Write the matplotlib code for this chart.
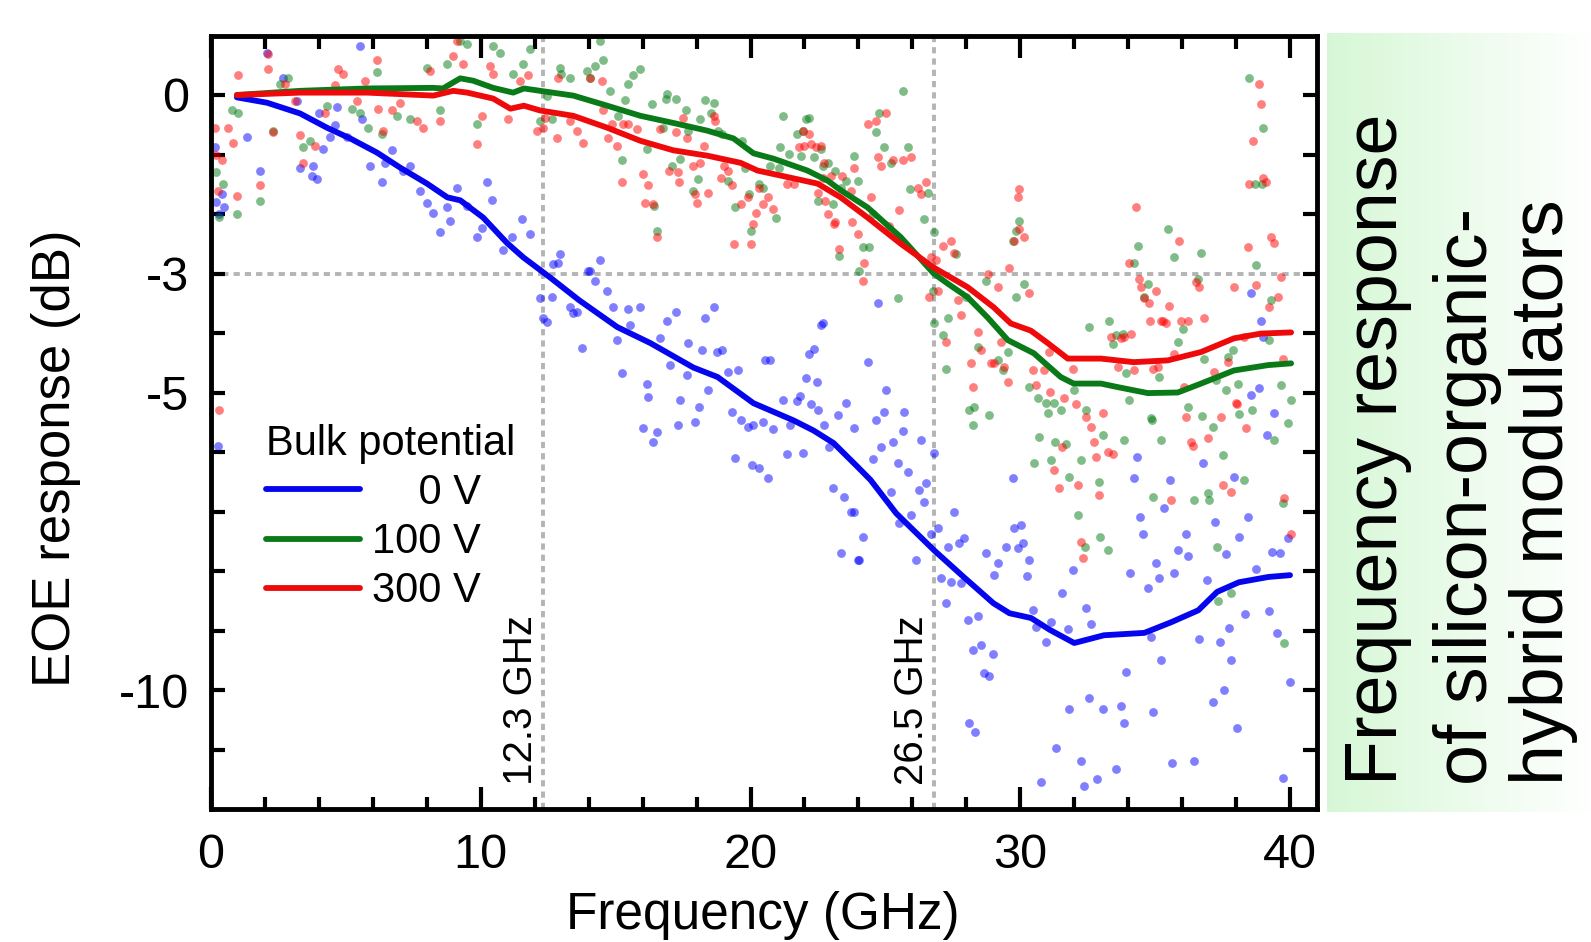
import numpy as np
import matplotlib.pyplot as plt
from matplotlib.ticker import MultipleLocator

plt.rcParams['font.family'] = ['Liberation Sans', 'DejaVu Sans']
plt.rcParams['axes.unicode_minus'] = False

# smoothed EOE response curves (frequency in GHz, response in dB)
blue_fx = [0.96, 2.08, 3.3, 4.3, 5.16, 6.16, 7.01, 8.01, 8.76, 9.24, 10.09, 10.98, 11.58, 12.58,
           13.65, 15.06, 16.29, 17.88, 18.78, 20.11, 21.6, 22.34, 23.08, 23.97, 24.45, 25.4, 26.8,
           27.9, 29.0, 29.6, 30.4, 31.1, 32.0, 33.1, 34.6, 35.6, 36.6, 37.3, 38.1, 39.2, 40.0]
blue_fy = [-0.04, -0.13, -0.31, -0.55, -0.73, -0.97, -1.22, -1.49, -1.72, -1.77, -2.06, -2.49, -2.73, -3.07,
           -3.45, -3.90, -4.17, -4.58, -4.74, -5.18, -5.47, -5.64, -5.85, -6.25, -6.47, -7.03, -7.65,
           -8.10, -8.54, -8.71, -8.79, -8.99, -9.21, -9.08, -9.04, -8.86, -8.66, -8.35, -8.19, -8.10, -8.07]

green_fx = [0.96, 3.3, 5.79, 8.24, 8.6, 9.24, 9.72, 10.46, 11.2, 11.6, 12.2, 13.43, 14.69, 15.92, 17.14,
            18.4, 19.37, 20.11, 20.85, 22.11, 22.86, 23.34, 24.34, 25.57, 26.79, 27.31, 28.05, 28.79,
            29.54, 30.5, 31.5, 31.98, 32.99, 33.62, 34.73, 35.84, 36.7, 37.92, 39.18, 40.04]
green_fy = [0.0, 0.07, 0.11, 0.12, 0.11, 0.28, 0.24, 0.12, 0.04, 0.11, 0.07, -0.01, -0.18, -0.35, -0.47,
            -0.60, -0.73, -0.98, -1.07, -1.27, -1.44, -1.60, -1.89, -2.39, -3.0, -3.17, -3.40, -3.74,
            -4.12, -4.34, -4.74, -4.85, -4.85, -4.91, -5.01, -5.0, -4.85, -4.63, -4.54, -4.51]

red_fx = [0.96, 3.3, 5.79, 8.24, 8.98, 9.5, 10.46, 11.1, 11.6, 12.2, 13.43, 14.69, 15.92, 17.14, 18.4,
          19.63, 20.26, 21.48, 22.49, 23.34, 24.34, 25.57, 26.79, 28.05, 29.02, 29.65, 30.39, 31.02,
          31.76, 32.99, 34.2, 35.47, 36.7, 37.92, 38.92, 40.04]
red_fy = [0.0, 0.04, 0.04, -0.01, 0.07, 0.04, -0.06, -0.23, -0.18, -0.26, -0.35, -0.55, -0.77, -0.93, -1.02,
          -1.14, -1.27, -1.39, -1.49, -1.72, -2.06, -2.5, -2.9, -3.23, -3.57, -3.84, -3.96, -4.17,
          -4.43, -4.43, -4.49, -4.46, -4.32, -4.09, -4.01, -3.99]

# raw measured points (GHz, dB)
blue_pts = [(0.2, -1.8), (0.3, -2.0), (0.25, -5.9), (0.15, -0.88), (0.4, -1.66), (0.5, -1.89), (1.33, -0.71),
            (1.82, -1.27), (2.08, 0.71), (2.67, 0.29), (3.19, -0.1), (3.3, -1.22), (3.78, -1.19), (3.75, -1.36),
            (3.93, -1.41), (4.0, -0.3), (4.16, -0.9), (4.42, -0.71), (4.6, -0.5), (4.68, -0.21), (5.05, -0.71),
            (5.53, 0.83), (5.6, -0.4), (5.9, -1.19), (6.35, -1.47), (6.46, -1.15), (6.72, -0.93), (7.12, -1.27),
            (7.38, -1.19), (7.76, -1.61), (8.01, -1.81), (8.24, -1.98), (8.5, -2.31), (8.76, -1.89), (8.87, -2.11),
            (9.13, -1.56), (9.5, -1.86), (9.87, -2.39), (10.06, -2.23), (10.24, -1.47), (10.43, -1.77),
            (10.83, -2.61), (11.17, -2.39), (11.54, -2.08), (11.84, -2.33), (12.21, -3.41), (12.32, -3.74),
            (12.47, -3.82), (12.65, -3.4), (12.69, -2.84), (12.88, -2.83), (12.95, -2.67), (13.32, -3.57),
            (13.43, -3.67), (13.58, -3.65), (13.77, -4.26), (13.99, -2.95), (14.06, -2.95), (14.25, -3.12),
            (14.43, -2.78), (14.69, -3.29), (14.92, -3.57), (15.06, -4.12), (15.25, -4.68), (15.47, -3.59),
            (15.55, -3.87), (15.92, -3.57), (16.03, -5.6), (16.18, -4.85), (16.21, -5.08), (16.4, -5.84),
            (16.55, -5.67), (16.66, -4.09), (16.92, -3.79), (17.03, -4.54), (17.22, -3.65), (17.33, -5.54),
            (17.4, -5.13), (17.66, -4.71), (17.7, -4.16), (17.96, -5.5), (18.1, -5.25), (18.22, -4.29),
            (18.33, -3.74), (18.44, -4.95), (18.63, -3.56), (18.74, -4.32), (18.96, -4.29), (19.18, -4.66),
            (19.33, -5.32), (19.44, -6.1), (19.55, -4.63), (19.63, -5.47), (19.89, -5.58), (20.04, -6.22),
            (20.11, -5.54), (20.33, -6.27), (20.45, -5.5), (20.52, -4.46), (20.63, -6.43), (20.74, -4.46),
            (20.85, -5.62), (21.19, -5.13), (21.34, -6.04), (21.48, -5.55), (21.74, -5.15), (21.82, -5.06),
            (21.93, -6.02), (22.04, -4.75), (22.15, -4.35), (22.23, -5.2), (22.34, -4.27), (22.45, -4.83),
            (22.52, -5.29), (22.63, -3.86), (22.67, -3.84), (22.71, -5.55), (22.9, -5.92), (23.04, -6.61),
            (23.23, -5.38), (23.34, -7.7), (23.45, -6.76), (23.53, -5.17), (23.71, -7.0), (23.82, -5.6),
            (23.82, -7.01), (23.97, -7.82), (24.04, -7.82), (24.16, -7.43), (24.34, -4.49), (24.53, -6.11),
            (24.64, -5.47), (24.71, -3.5), (24.82, -5.92), (24.93, -5.33), (25.01, -4.96), (25.19, -6.68),
            (25.3, -5.84), (25.45, -6.19), (25.49, -7.2), (25.64, -5.64), (25.68, -5.33), (25.83, -6.34),
            (25.94, -7.06), (26.12, -7.82), (26.23, -6.64), (26.31, -5.8), (26.42, -6.84), (26.49, -6.52),
            (26.68, -7.37), (26.79, -6.02), (26.94, -7.28), (27.05, -8.12), (27.24, -8.53), (27.31, -7.6),
            (27.42, -8.19), (27.53, -7.01), (27.72, -7.53), (27.79, -8.2), (27.9, -7.45), (28.05, -8.82),
            (28.09, -10.55), (28.24, -9.33), (28.31, -10.7), (28.42, -8.76), (28.53, -9.25), (28.65, -9.71),
            (28.72, -7.7), (28.83, -9.77), (28.98, -9.4), (29.02, -8.07), (29.16, -7.87), (29.46, -7.6),
            (29.72, -6.44), (29.76, -7.28), (29.91, -7.62), (30.02, -7.23), (30.09, -7.53), (30.24, -8.09),
            (30.32, -7.82), (30.46, -8.66), (30.57, -8.94), (30.76, -11.55), (30.95, -9.19), (31.13, -8.86),
            (31.32, -10.97), (31.54, -8.37), (31.76, -8.98), (31.8, -10.32), (31.95, -7.99), (32.24, -11.2),
            (32.36, -11.61), (32.43, -8.62), (32.54, -10.13), (32.62, -8.89), (32.84, -11.5), (33.06, -10.32),
            (33.54, -11.33), (33.73, -10.27), (33.84, -10.55), (33.91, -9.7), (34.06, -8.04), (34.21, -6.44),
            (34.32, -6.09), (34.43, -7.1), (34.54, -7.37), (34.73, -8.29), (34.84, -9.11), (34.92, -10.37),
            (35.03, -7.87), (35.14, -8.12), (35.21, -9.5), (35.32, -6.94), (35.55, -6.47), (35.62, -11.23),
            (35.7, -8.04), (35.84, -7.65), (36.14, -7.37), (36.22, -7.74), (36.44, -11.2), (36.62, -9.14),
            (36.77, -6.19), (36.92, -8.15), (37.14, -10.2), (37.22, -7.18), (37.4, -9.2), (37.55, -10.0),
            (37.62, -7.72), (37.74, -8.96), (37.83, -9.5), (37.92, -6.42), (38.03, -10.64), (38.11, -7.43),
            (38.33, -8.72), (38.44, -7.1), (38.55, -5.05), (38.55, -3.32), (38.74, -7.97), (38.85, -4.93),
            (38.92, -3.79), (39.0, -4.07), (39.15, -5.72), (39.22, -8.67), (39.33, -7.68), (39.41, -5.35),
            (39.52, -9.04), (39.63, -7.7), (39.74, -11.48), (39.93, -7.45), (40.0, -9.87)]

green_pts = [(0.2, -1.3), (0.3, -2.05), (0.45, -1.49), (0.78, -0.26), (1.0, -0.31), (0.96, -2.0), (1.82, -1.78),
             (2.3, -0.6), (2.56, 0.19), (2.86, 0.29), (3.41, -0.88), (3.67, -0.77), (4.3, -0.18), (5.23, -0.23),
             (5.53, -0.3), (5.83, -0.55), (6.16, 0.38), (6.35, -0.65), (6.9, -0.35), (7.38, -0.4), (8.01, 0.46),
             (8.5, -0.26), (8.76, 0.52), (9.24, 0.91), (9.5, 0.86), (9.87, -0.48), (10.46, 0.83), (10.72, 0.71),
             (11.2, 0.36), (11.58, 0.52), (11.84, 0.78), (12.21, -0.43), (12.47, -0.01), (12.65, -0.4),
             (12.95, 0.46), (12.99, 0.36), (13.32, 0.29), (13.95, 0.41), (14.06, 0.28), (14.25, 0.49),
             (14.43, 0.91), (14.55, 0.58), (14.8, 0.07), (15.1, -0.35), (15.25, -1.1), (15.36, -0.09),
             (15.44, 0.19), (15.66, 0.33), (15.92, 0.44), (16.18, -0.9), (16.36, -0.15), (16.44, -1.87),
             (16.55, -2.28), (16.77, -0.55), (16.85, -0.06), (16.92, 0.02), (17.1, -1.19), (17.22, -0.06),
             (17.4, -1.07), (17.59, -0.26), (17.7, -0.6), (17.88, -1.61), (18.07, -1.41), (18.14, -0.4),
             (18.33, -0.09), (18.52, -0.31), (18.63, -0.13), (18.78, -0.6), (18.96, -0.65), (19.15, -1.44),
             (19.44, -1.89), (19.7, -0.77), (19.81, -1.22), (19.93, -1.66), (20.0, -2.28), (20.3, -1.5),
             (20.45, -1.56), (20.74, -1.19), (20.93, -2.06), (21.04, -1.22), (21.11, -0.88), (21.22, -0.35),
             (21.41, -0.99), (21.74, -0.65), (21.86, -1.02), (21.93, -0.6), (22.04, -0.4), (22.15, -0.38),
             (22.34, -1.05), (22.52, -1.78), (22.6, -0.9), (22.7, -1.2), (22.86, -1.14), (23.04, -1.83),
             (23.15, -1.27), (23.27, -2.7), (23.34, -1.56), (23.53, -1.44), (23.82, -1.02), (23.97, -1.44),
             (24.01, -2.95), (24.16, -2.56), (24.38, -2.56), (24.53, -2.0), (24.64, -0.63), (24.75, -0.3),
             (24.93, -0.88), (25.19, -1.15), (25.45, -3.42), (25.64, 0.07), (25.83, -0.88), (25.9, -1.58),
             (26.42, -2.08), (26.57, -1.64), (26.75, -3.29), (26.79, -2.31), (26.8, -3.84), (27.12, -4.04),
             (27.24, -4.6), (27.31, -3.74), (27.6, -2.67), (27.98, -3.4), (28.09, -5.3), (28.24, -5.55),
             (28.27, -5.25), (28.42, -4.24), (28.72, -3.12), (28.83, -5.38), (29.16, -4.46), (29.35, -4.63),
             (29.54, -4.32), (29.72, -2.45), (29.83, -2.28), (29.85, -3.4), (29.94, -2.11), (30.13, -3.17),
             (30.32, -4.91), (30.5, -6.19), (30.65, -5.1), (30.69, -5.75), (30.95, -5.17), (31.02, -5.35),
             (31.13, -6.14), (31.24, -5.17), (31.28, -5.84), (31.5, -5.3), (31.69, -5.86), (31.8, -6.42),
             (31.98, -4.96), (32.13, -7.06), (32.24, -6.14), (32.4, -7.6), (32.43, -5.3), (32.54, -3.9),
             (32.91, -6.51), (32.95, -7.43), (33.06, -5.72), (33.25, -7.65), (33.28, -3.79), (33.43, -4.18),
             (33.54, -4.04), (33.8, -4.01), (33.84, -5.8), (33.91, -4.68), (34.03, -5.13), (34.21, -2.83),
             (34.36, -2.53), (34.58, -3.4), (34.73, -3.17), (34.84, -5.43), (34.9, -5.47), (34.92, -6.76),
             (35.14, -4.74), (35.21, -5.8), (35.47, -2.25), (35.7, -2.73), (35.84, -4.15), (36.03, -3.93),
             (36.22, -5.25), (36.44, -6.81), (36.6, -3.1), (36.7, -2.65), (36.75, -5.4), (36.81, -4.43),
             (36.96, -6.69), (37.0, -6.81), (37.14, -5.58), (37.25, -4.79), (37.3, -7.6), (37.33, -8.5),
             (37.51, -6.05), (37.62, -4.96), (37.7, -4.4), (37.81, -8.37), (37.89, -4.29), (38.07, -4.85),
             (38.11, -5.36), (38.29, -6.47), (38.48, 0.29), (38.6, -5.3), (38.7, -1.5), (38.74, -2.86),
             (38.97, -1.5), (39.0, -0.55), (39.22, -4.12), (39.29, -3.45), (39.41, -5.8), (39.67, -4.88),
             (39.75, -6.85), (39.78, -9.21), (39.93, -5.52), (40.04, -5.13)]

red_pts = [(0.15, -0.55), (0.2, -1.0), (0.26, -1.61), (0.3, -5.3), (0.41, -1.1), (0.63, -0.55), (0.82, -0.8),
           (0.96, -1.69), (1.0, 0.33), (1.82, -1.51), (2.11, 0.44), (2.11, 0.69), (2.3, -0.62), (2.75, 0.19),
           (3.12, -0.1), (3.3, -0.68), (3.41, -1.15), (3.86, -0.85), (4.23, -0.3), (4.6, 0.16), (4.71, 0.44),
           (4.9, 0.36), (5.42, -0.1), (5.71, 0.24), (6.16, 0.58), (6.2, -0.23), (6.38, -0.6), (6.72, -0.26),
           (7.01, -0.13), (7.64, -0.43), (7.87, -0.55), (8.13, 0.41), (8.5, -0.43), (8.98, 0.66), (9.13, 0.91),
           (9.35, 0.52), (9.87, -0.82), (10.06, -0.35), (10.35, 0.49), (10.46, 0.36), (11.02, -0.4), (11.47, 0.24),
           (11.76, 0.33), (12.1, -0.6), (12.32, -0.55), (12.39, -0.38), (12.84, -0.73), (12.88, 0.28),
           (13.32, -0.43), (13.58, -0.6), (13.8, -0.8), (14.06, 0.28), (14.51, 0.24), (14.55, -0.26),
           (14.73, -0.73), (14.88, -0.48), (15.06, -0.85), (15.25, -1.47), (15.29, -0.48), (15.47, -0.48),
           (15.81, -0.57), (16.03, -1.32), (16.1, -1.81), (16.21, -1.52), (16.4, -1.83), (16.55, -2.39),
           (16.66, -0.57), (16.96, -1.27), (17.22, -0.63), (17.33, -1.3), (17.35, -1.47), (17.51, -0.38),
           (17.66, -0.73), (17.85, -1.19), (17.96, -1.66), (18.03, -1.81), (18.14, -1.15), (18.26, -0.85),
           (18.44, -1.64), (18.63, -0.35), (18.7, -0.43), (18.89, -1.39), (19.0, -1.19), (19.18, -1.27),
           (19.33, -1.52), (19.37, -2.5), (19.63, -1.83), (19.89, -1.72), (20.0, -2.5), (20.11, -2.17),
           (20.19, -1.98), (20.3, -1.56), (20.48, -1.83), (20.63, -1.72), (20.85, -1.91), (21.37, -1.49),
           (21.6, -1.49), (21.78, -0.88), (21.93, -0.6), (21.97, -0.85), (22.15, -0.65), (22.23, -0.82),
           (22.41, -0.88), (22.49, -1.64), (22.6, -0.85), (22.67, -1.39), (22.71, -1.15), (22.75, -1.78),
           (22.86, -2.0), (22.97, -1.36), (23.08, -2.17), (23.15, -2.14), (23.27, -2.58), (23.41, -1.36),
           (23.71, -1.61), (23.78, -2.14), (23.82, -1.22), (23.97, -2.33), (24.16, -3.12), (24.19, -2.83),
           (24.34, -0.48), (24.45, -1.72), (24.64, -0.43), (24.71, -1.05), (24.82, -1.19), (25.01, -0.31),
           (25.12, -2.2), (25.3, -1.1), (25.49, -1.94), (25.64, -1.1), (25.94, -1.05), (26.2, -1.56),
           (26.31, -1.66), (26.49, -1.47), (26.6, -3.4), (26.68, -2.73), (26.86, -2.78), (26.94, -3.29),
           (27.12, -2.53), (27.24, -4.15), (27.42, -2.45), (27.53, -2.65), (27.68, -3.45), (27.79, -3.7),
           (28.16, -4.51), (28.24, -4.91), (28.42, -3.99), (28.53, -4.29), (28.79, -3.0), (28.91, -4.51),
           (29.02, -4.5), (29.16, -3.23), (29.27, -4.15), (29.39, -4.57), (29.54, -4.83), (29.57, -2.9),
           (29.76, -2.45), (29.91, -1.72), (29.94, -1.58), (29.96, -2.25), (30.13, -2.39), (30.32, -3.32),
           (30.46, -4.63), (30.57, -4.88), (30.87, -4.63), (31.06, -4.32), (31.1, -4.99), (31.24, -6.3),
           (31.43, -6.61), (31.54, -5.92), (31.61, -5.1), (31.95, -4.6), (32.06, -5.19), (32.13, -6.56),
           (32.24, -7.51), (32.32, -7.78), (32.43, -5.42), (32.62, -5.58), (32.73, -5.84), (32.8, -6.09),
           (32.91, -6.73), (33.06, -5.35), (33.25, -6.0), (33.36, -4.07), (33.43, -6.03), (33.62, -4.57),
           (33.73, -4.09), (33.84, -4.07), (34.03, -2.82), (34.1, -4.01), (34.21, -4.63), (34.29, -1.89),
           (34.4, -3.09), (34.47, -3.23), (34.6, -3.42), (34.77, -3.5), (34.8, -3.79), (34.92, -4.6),
           (35.03, -3.29), (35.1, -4.57), (35.21, -3.79), (35.3, -3.8), (35.4, -3.84), (35.51, -3.54),
           (35.58, -6.81), (35.7, -4.35), (35.88, -2.45), (35.95, -3.79), (36.07, -4.91), (36.14, -5.42),
           (36.22, -3.79), (36.33, -5.84), (36.4, -5.9), (36.51, -3.15), (36.62, -3.23), (36.81, -3.74),
           (36.96, -5.77), (37.18, -4.66), (37.44, -5.42), (37.51, -6.56), (37.7, -4.49), (37.81, -6.68),
           (37.92, -3.23), (38.0, -5.17), (38.05, -5.19), (38.29, -4.07), (38.35, -5.6), (38.44, -2.56),
           (38.48, -1.49), (38.63, -0.77), (38.74, -3.2), (38.85, 0.19), (38.92, -0.15), (39.0, -1.39),
           (39.11, -1.47), (39.22, -3.57), (39.29, -2.39), (39.41, -2.48), (39.55, -3.4), (39.67, -3.06),
           (39.74, -4.43), (39.78, -6.77), (40.04, -7.37)]

series_labels = ['    0 V', '100 V', '300 V']
line_colors = ['#0505ee', '#0a7a18', '#ee0a0a']
dot_colors = ['#0000ff', '#007a10', '#ff0000']

cutoff_pos = [12.3, 26.8]
cutoff_text = ['12.3 GHz', '26.5 GHz']

ytick_vals = [0, -1, -2, -3, -4, -5, -6, -7, -8, -9, -10, -11]
ytick_text = ['0', '', '', '-3', '', '-5', '', '', '', '', '-10', '']

fig = plt.figure(figsize=(15.91, 9.42), dpi=100)
W, H = 1591, 942
ax = fig.add_axes([211 / W, 1 - 809 / H, 1106 / W, 773.5 / H])

# raw points
for pts, c in zip([blue_pts, green_pts, red_pts], dot_colors):
    px, py = np.array(pts).T
    ax.scatter(px, py, s=40, color=c, alpha=0.5, linewidths=0, zorder=2)

# smoothed lines
handles = []
for fx, fy, c, lab in zip([blue_fx, green_fx, red_fx], [blue_fy, green_fy, red_fy],
                          line_colors, series_labels):
    h, = ax.plot(fx, fy, color=c, lw=4.2, solid_capstyle='round', solid_joinstyle='round',
                 zorder=4, label=lab)
    handles.append(h)

# -3 dB and cutoff markers
grid_kw = dict(color='#b4b4b4', lw=2.8, dashes=(1.6, 1.3), zorder=1)
ax.axhline(-3, **grid_kw)
for xp, txt in zip(cutoff_pos, cutoff_text):
    ax.axvline(xp, **grid_kw)
    ax.text(xp - 0.12, -11.6, txt, rotation=90, ha='right', va='bottom', fontsize=29)

ax.set_xlim(0, 41)
ax.set_ylim(-12, 1)
ax.set_xticks([0, 10, 20, 30, 40])
ax.xaxis.set_minor_locator(MultipleLocator(2))
ax.set_yticks(ytick_vals)
ax.set_yticklabels(ytick_text)

ax.tick_params(which='both', direction='in', top=True, right=True, width=3)
ax.tick_params(axis='x', which='major', length=16, labelsize=35, pad=17)
ax.tick_params(axis='x', which='minor', length=9)
ax.tick_params(axis='y', which='major', length=10, labelsize=35, pad=16)
for sp in ax.spines.values():
    sp.set_linewidth(3.5)

fig.text(56 / W, 1 - 458 / H, 'EOE response (dB)', rotation=90, fontsize=38, ha='center', va='center')
fig.text(763 / W, 1 - 915 / H, 'Frequency (GHz)', fontsize=37, ha='center', va='center')

ax.legend(handles=handles, title='Bulk potential', loc='upper left', bbox_to_anchor=(0.0497, 0.498),
          frameon=False, fontsize=30, title_fontsize=30, handlelength=2.25, handletextpad=0.3,
          labelspacing=0.22, borderpad=0, borderaxespad=0, alignment='left')

# side panel with caption
pax = fig.add_axes([1327 / W, 1 - 812 / H, (W - 1327) / W, (812 - 33) / H])
grad = np.linspace(0, 1, 256)[None, :, None]
c0 = np.array([0.84, 0.97, 0.84])
c1 = np.array([1.0, 1.0, 1.0])
pax.imshow(c0 + (c1 - c0) * grad, aspect='auto', extent=[0, 1, 0, 1])
pax.axis('off')

caption = ['Frequency response', 'of silicon-organic-', 'hybrid modulators']
for xc, line in zip([1378, 1467, 1543], caption):
    fig.text(xc / W, 1 - 785 / H, line, rotation=90, rotation_mode='anchor',
             ha='left', va='center', fontsize=53)

fig.savefig('out.png', dpi=100)
